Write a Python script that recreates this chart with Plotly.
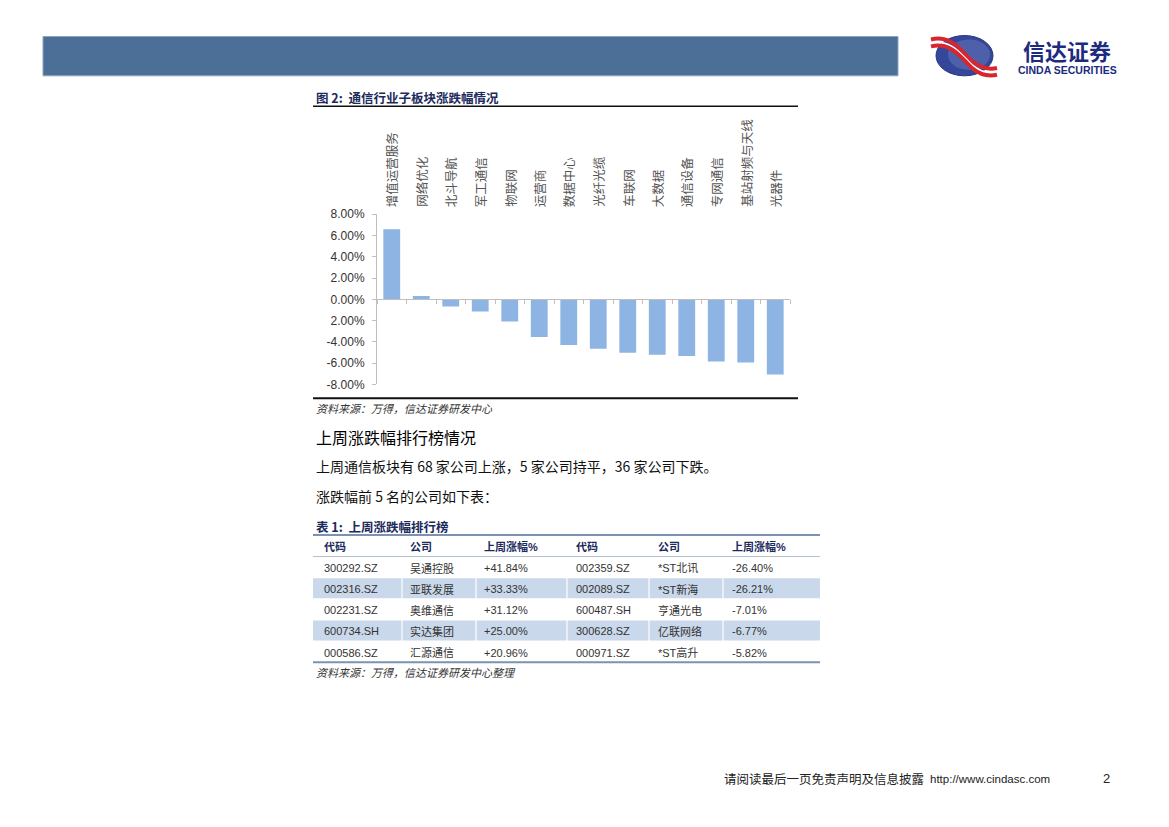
import plotly.graph_objects as go

W, H = 1169, 827


def px(x):
    return x / W


def py(y):
    return 1 - y / H


# ---------------- data ----------------
categories = ["增值运营服务", "网络优化", "北斗导航", "军工通信", "物联网", "运营商", "数据中心",
              "光纤光缆", "车联网", "大数据", "通信设备", "专网通信", "基站射频与天线", "光器件"]
changes = [6.58, 0.31, -0.68, -1.14, -2.09, -3.54, -4.28, -4.65, -5.02, -5.20, -5.32, -5.85, -5.94, -7.05]
y_tick_vals = [8, 6, 4, 2, 0, -2, -4, -6, -8]
y_tick_text = ["8.00%", "6.00%", "4.00%", "2.00%", "0.00%", "2.00%", "-4.00%", "-6.00%", "-8.00%"]

table_header = ["代码", "公司", "上周涨幅%", "代码", "公司", "上周涨幅%"]
up_codes = ["300292.SZ", "002316.SZ", "002231.SZ", "600734.SH", "000586.SZ"]
up_names = ["吴通控股", "亚联发展", "奥维通信", "实达集团", "汇源通信"]
up_pct = ["+41.84%", "+33.33%", "+31.12%", "+25.00%", "+20.96%"]
down_codes = ["002359.SZ", "002089.SZ", "600487.SH", "300628.SZ", "000971.SZ"]
down_names = ["*ST北讯", "*ST新海", "亨通光电", "亿联网络", "*ST高升"]
down_pct = ["-26.40%", "-26.21%", "-7.01%", "-6.77%", "-5.82%"]

fig_title = "图 2:  通信行业子板块涨跌幅情况"
fig_source = "资料来源：万得，信达证券研发中心"
section_title = "上周涨跌幅排行榜情况"
para1 = "上周通信板块有 68 家公司上涨，5 家公司持平，36 家公司下跌。"
para2 = "涨跌幅前 5 名的公司如下表："
table_title = "表 1:  上周涨跌幅排行榜"
table_source = "资料来源：万得，信达证券研发中心整理"
footer_cn = "请阅读最后一页免责声明及信息披露"
footer_url = "http://www.cindasc.com"
page_no = "2"

# ---------------- style ----------------
SANS = "Liberation Sans, Arial, Noto Sans CJK SC"
CJK = "Noto Sans CJK SC, Liberation Sans"
NAVY = "#1c2a5c"
BAR = "#8db4e2"
AXIS = "#bfbfbf"
BAND = "#4c6f98"
ROWBLUE = "#c9d8ea"

fig = go.Figure()

# plot area in page pixels
PX0, PX1 = 377, 790
PY_TOP, PY_BOT = 210.7, 384.0
y_dom = [py(PY_BOT), py(PY_TOP)]

fig.add_trace(go.Bar(
    x=categories, y=changes, marker_color=BAR, marker_line_width=0,
    xaxis="x", yaxis="y", showlegend=False, hoverinfo="x+y"
))

fig.update_layout(
    width=W, height=H, autosize=False,
    margin=dict(l=0, r=0, t=0, b=0),
    paper_bgcolor="white", plot_bgcolor="rgba(0,0,0,0)",
    bargap=0.43,
    xaxis=dict(
        domain=[px(PX0), px(PX1)], type="category",
        anchor="free", position=(y_dom[0] + y_dom[1]) / 2,
        showticklabels=False, showline=True, linecolor=AXIS, linewidth=1,
        ticks="outside", ticklen=4, tickcolor=AXIS, tickson="boundaries",
        showgrid=False, zeroline=False, fixedrange=True,
    ),
    yaxis=dict(
        domain=y_dom, range=[-8, 8],
        tickvals=y_tick_vals, ticktext=y_tick_text,
        showline=True, linecolor=AXIS, linewidth=1,
        ticks="outside", ticklen=4, tickcolor=AXIS,
        showgrid=False, zeroline=False,
        tickfont=dict(family=SANS, size=12, color="#333333"),
        ticklabelstandoff=5, fixedrange=True,
    ),
)

# category labels (vertical, reading bottom-to-top)
for c in categories:
    fig.add_annotation(
        x=c, xref="x", y=py(205.5), yref="paper",
        text=c, textangle=-90, showarrow=False,
        xanchor="center", yanchor="bottom",
        font=dict(family=CJK, size=12.5, color="#555555"),
    )

shapes = []
# header band
shapes.append(dict(type="rect", xref="paper", yref="paper",
                   x0=px(43), x1=px(898), y0=py(70), y1=py(30),
                   fillcolor=BAND, line=dict(color="#8ea4c0", width=1)))
# figure frame lines
shapes.append(dict(type="line", xref="paper", yref="paper",
                   x0=px(313), x1=px(798), y0=py(101), y1=py(101),
                   line=dict(color="#111111", width=1.5)))
shapes.append(dict(type="line", xref="paper", yref="paper",
                   x0=px(313), x1=px(798), y0=py(398), y1=py(398),
                   line=dict(color="#111111", width=2)))

# ----- table layout -----
col_edges = [313, 402, 476, 567, 649, 723, 820]
col_pad = [9, 6, 6, 7, 7, 7]
T_TOP, HEAD_H, ROW_H = 537, 22, 21.5
n_rows = len(up_codes)
T_BOT = T_TOP + HEAD_H + ROW_H * n_rows

# alternating row fills with thin white separators between cells
for r in range(n_rows):
    if r % 2 == 1:
        y0 = T_TOP + HEAD_H + ROW_H * r
        for ci in range(len(col_edges) - 1):
            shapes.append(dict(type="rect", xref="paper", yref="paper",
                               x0=px(col_edges[ci] + (0 if ci == 0 else 0.6)),
                               x1=px(col_edges[ci + 1] - (0 if ci == len(col_edges) - 2 else 0.6)),
                               y0=py(y0 + ROW_H - 0.5), y1=py(y0 + 0.5),
                               fillcolor=ROWBLUE, line=dict(width=0), layer="below"))
shapes.append(dict(type="line", xref="paper", yref="paper",
                   x0=px(col_edges[0]), x1=px(col_edges[-1]), y0=py(T_TOP), y1=py(T_TOP),
                   line=dict(color="#7b92b1", width=2)))
shapes.append(dict(type="line", xref="paper", yref="paper",
                   x0=px(col_edges[0]), x1=px(col_edges[-1]), y0=py(T_TOP + HEAD_H), y1=py(T_TOP + HEAD_H),
                   line=dict(color="#b3c1d3", width=1)))
shapes.append(dict(type="line", xref="paper", yref="paper",
                   x0=px(col_edges[0]), x1=px(col_edges[-1]), y0=py(T_BOT), y1=py(T_BOT),
                   line=dict(color="#7b92b1", width=2)))

# logo: globe with red ribbons
shapes.append(dict(type="circle", xref="paper", yref="paper",
                   x0=px(936), x1=px(993), y0=py(70), y1=py(29),
                   fillcolor="#34479a", line=dict(color="#26357e", width=1)))
shapes.append(dict(type="circle", xref="paper", yref="paper",
                   x0=px(948), x1=px(990), y0=py(64), y1=py(33),
                   fillcolor="#5f72b4", line=dict(width=0), opacity=0.6))


def ppath(points):
    s = ""
    for cmd, pts in points:
        s += cmd + " " + " ".join(f"{px(a):.5f},{py(b):.5f}" for a, b in pts) + " "
    return s.strip()


for off, col, wdt in [(0, "#d9262e", 4), (4, "white", 2), (7, "#d9262e", 4)]:
    shapes.append(dict(type="path", xref="paper", yref="paper",
                       path=ppath([("M", [(931, 33 + off)]),
                                   ("C", [(952, 28 + off), (962, 46 + off), (972, 55 + off)]),
                                   ("C", [(980, 62 + off), (988, 64 + off), (997, 62 + off)])]),
                       line=dict(color=col, width=wdt)))
fig.update_layout(shapes=shapes)


# ----- texts -----
def txt(x, y, s, size, color="#000000", family=CJK, weight="normal", style="normal",
        xanchor="left", yanchor="middle"):
    fig.add_annotation(x=px(x), y=py(y), xref="paper", yref="paper", text=s,
                       showarrow=False, xanchor=xanchor, yanchor=yanchor,
                       font=dict(family=family, size=size, color=color, weight=weight, style=style))


txt(314, 92, fig_title, 12.5, NAVY, weight="bold")
txt(314, 408, fig_source, 11, "#333333", style="italic")
txt(314, 437, section_title, 16, "#000000")
txt(314, 467, para1, 14, "#111111")
txt(314, 497, para2, 14, "#111111")
txt(314, 528, table_title, 12.5, NAVY, weight="bold")
txt(314, 676.5, table_source, 11, "#333333", style="italic")
txt(1052, 785, footer_url, 11.5, "#222222", family=SANS, xanchor="right")
txt(927, 785, footer_cn, 12.5, "#222222", xanchor="right")
txt(1106, 785, page_no, 13, "#222222", family=SANS, xanchor="center")
# logo text
txt(1067, 44, "信达证券", 22, "#1c2b7e", weight="bold", xanchor="center")
txt(1067, 56, "CINDA SECURITIES", 10.5, "#1c2b7e", family=SANS, weight="bold",
    xanchor="center", yanchor="top")

# table texts
columns = [up_codes, up_names, up_pct, down_codes, down_names, down_pct]
for ci, h in enumerate(table_header):
    txt(col_edges[ci] + col_pad[ci], T_TOP + HEAD_H / 2 + 1, h, 11, NAVY, family=SANS, weight="bold")
for ci, col in enumerate(columns):
    for r, v in enumerate(col):
        txt(col_edges[ci] + col_pad[ci], T_TOP + HEAD_H + ROW_H * (r + 0.5) + 1, v, 11, "#333333", family=SANS)

fig.write_html("out.html", config={"displayModeBar": False},
               post_script="document.body.style.margin='0';document.body.style.overflow='hidden';")
